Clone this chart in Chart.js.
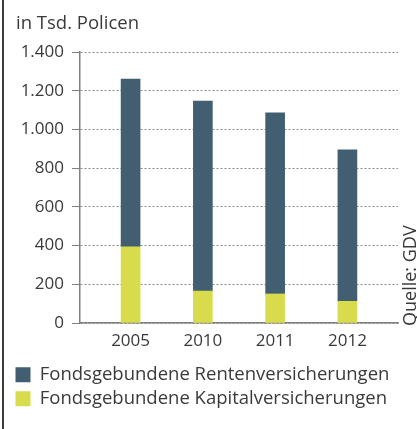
<!DOCTYPE html>
<html>
<head>
<meta charset="utf-8">
<script src="https://cdn.jsdelivr.net/npm/chart.js@4"></script>
<style>
  body { margin: 0; background: #fff; }
  #wrap { position: relative; width: 417px; height: 429px; }
  #edge { position: absolute; left: 2px; top: 0; width: 2px; height: 429px; background: #3c3c3c; }
</style>
</head>
<body>
<div id="wrap">
  <canvas id="chart" width="417" height="429"></canvas>
  <div id="edge"></div>
</div>
<script>
const years = ["2005", "2010", "2011", "2012"];
const rente = [866, 982, 936, 782];
const kapital = [394, 165, 150, 112];
const yTicks = [0, 200, 400, 600, 800, 1000, 1200, 1400];
const seriesNames = ["Fondsgebundene Rentenversicherungen", "Fondsgebundene Kapitalversicherungen"];
const unitLabel = "in Tsd. Policen";
const sourceLabel = "Quelle: GDV";

const textColor = "#3a3a3a";
const axisColor = "#808080";
const fontFamily = '"Open Sans", sans-serif';

function formatDe(v) {
    return String(v).replace(/\B(?=(\d{3})+(?!\d))/g, ".");
}

// title top left and rotated source note on the right
const notes = {
    id: "notes",
    afterDraw(chart) {
        const ctx = chart.ctx;
        const area = chart.chartArea;
        ctx.save();
        ctx.fillStyle = textColor;
        ctx.textBaseline = "alphabetic";
        ctx.font = "18.5px " + fontFamily;
        ctx.fillText(unitLabel, 16, 29);
        ctx.translate(area.right + 18, area.bottom + 3);
        ctx.rotate(-Math.PI / 2);
        ctx.font = "18px " + fontFamily;
        ctx.fillText(sourceLabel, 0, 0);
        ctx.restore();
    }
};

const ctx = document.getElementById("chart").getContext("2d");
new Chart(ctx, {
    type: "bar",
    data: {
        datasets: [
            {
                label: seriesNames[1],
                data: kapital.map((v, i) => ({ x: i, y: v })),
                backgroundColor: "#d8dc4c"
            },
            {
                label: seriesNames[0],
                data: rente.map((v, i) => ({ x: i, y: v })),
                backgroundColor: "#415f70"
            }
        ]
    },
    options: {
        responsive: false,
        animation: false,
        barThickness: 19,
        layout: { padding: { top: 52, left: 10, right: 19, bottom: 11 } },
        scales: {
            x: {
                type: "linear",
                stacked: true,
                offset: false,
                min: -0.7,
                max: 3.7,
                afterBuildTicks(scale) {
                    scale.ticks = years.map((y, i) => ({ value: i }));
                },
                afterFit(scale) {
                    scale.height = 37;
                },
                grid: { display: false, drawTicks: false, offset: false },
                border: { display: true, color: axisColor, width: 1.5 },
                ticks: {
                    padding: 8,
                    color: textColor,
                    font: { family: fontFamily, size: 17 },
                    callback: (v) => years[v]
                }
            },
            y: {
                stacked: true,
                min: 0,
                max: 1400,
                afterBuildTicks(scale) {
                    scale.ticks = yTicks.map(v => ({ value: v }));
                },
                afterFit(scale) {
                    scale.width = 70;
                },
                grid: {
                    display: true,
                    drawOnChartArea: true,
                    color: "#8a8a8a",
                    lineWidth: 1,
                    tickColor: axisColor,
                    tickLength: 8,
                    tickBorderDash: []
                },
                border: { display: true, color: axisColor, width: 1.5, dash: [2, 2] },
                ticks: {
                    padding: 8,
                    color: textColor,
                    font: { family: fontFamily, size: 17 },
                    callback: (v) => formatDe(v)
                }
            }
        },
        plugins: {
            legend: {
                position: "bottom",
                align: "start",
                reverse: true,
                labels: {
                    boxWidth: 15,
                    boxHeight: 15,
                    padding: 5.5,
                    color: textColor,
                    font: { family: fontFamily, size: 18.5 }
                }
            },
            tooltip: { enabled: false }
        }
    },
    plugins: [notes]
});
</script>
</body>
</html>
